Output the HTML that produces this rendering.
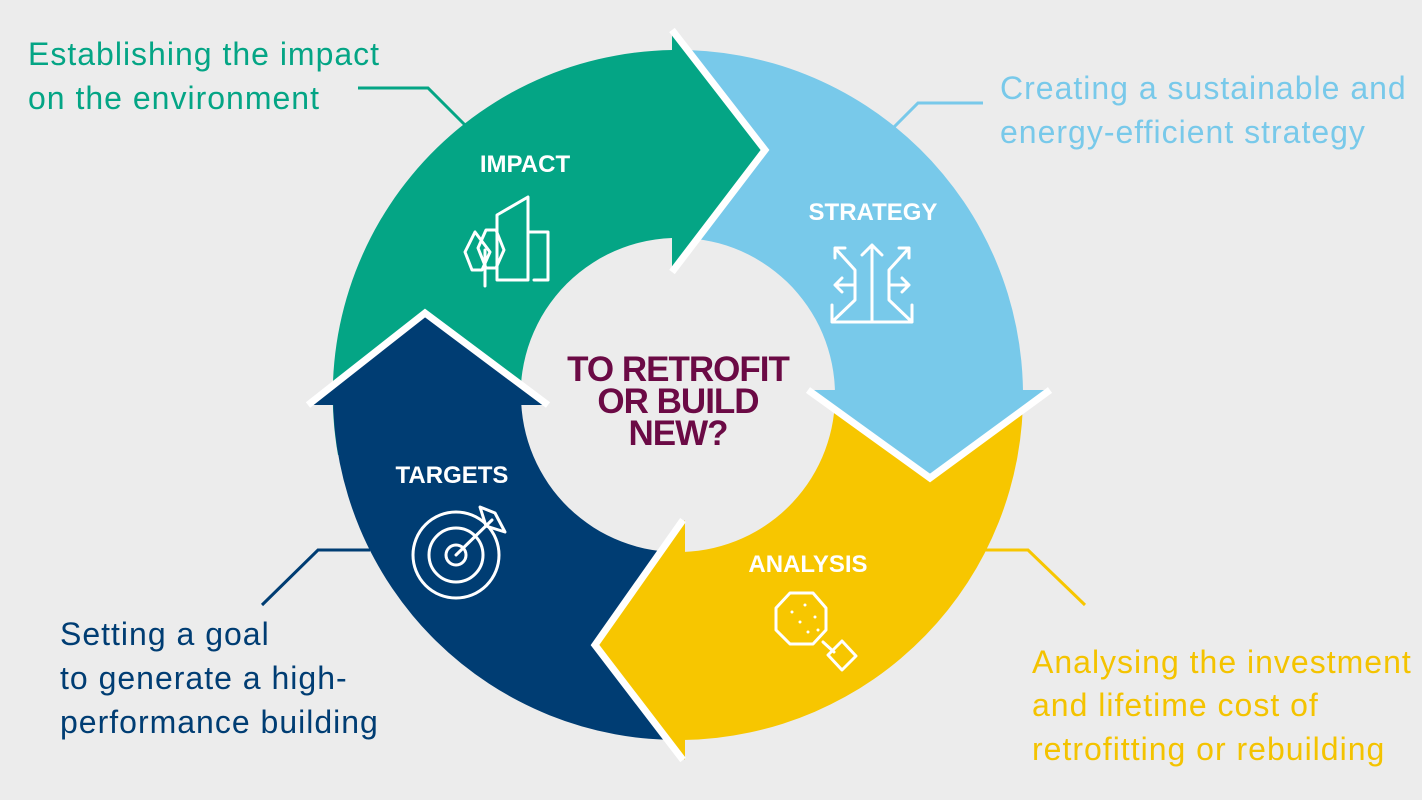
<!DOCTYPE html>
<html><head><meta charset="utf-8"><style>
body{margin:0;background:#ececec;}
svg{display:block;}
text{font-family:"Liberation Sans",sans-serif;}
</style></head><body>
<svg width="1422" height="800" viewBox="0 0 1422 800" xmlns="http://www.w3.org/2000/svg">
<rect width="1422" height="800" fill="#ececec"/>
<path d="M338,455 A345,345 0 0,1 672,50 L672,238 A157,157 0 0,0 523,422 Z" fill="#04a585"/>
<path d="M672,50 A345,345 0 0,1 1023,395 L835,395 A157,157 0 0,0 672,238 Z" fill="#78c9ea"/>
<path d="M1023,390 A345,345 0 0,1 683,740 L683,552 A157,157 0 0,0 835,390 Z" fill="#f7c600"/>
<path d="M683,740 A345,345 0 0,1 333,395 L521,395 A157,157 0 0,0 683,552 Z" fill="#003d73"/>
<polygon points="672,30 765,150 672,272" fill="#04a585"/>
<polyline points="672,30 765,150 672,272" fill="none" stroke="#fff" stroke-width="7"/>
<polygon points="808,390 930,478 1050,390" fill="#78c9ea"/>
<polyline points="808,390 930,478 1050,390" fill="none" stroke="#fff" stroke-width="7"/>
<polygon points="685,520 595,645 685,760" fill="#f7c600"/>
<polyline points="683,520 595,645 683,760" fill="none" stroke="#fff" stroke-width="7"/>
<polygon points="308,405 425,313 548,405" fill="#003d73"/>
<polyline points="308,405 425,313 548,405" fill="none" stroke="#fff" stroke-width="7"/>
<polyline points="358,88 428,88 465,125" fill="none" stroke="#04a585" stroke-width="3"/>
<polyline points="983,103 918,103 893,128" fill="none" stroke="#78c9ea" stroke-width="3"/>
<polyline points="985,550 1028,550 1085,605" fill="none" stroke="#f7c600" stroke-width="3"/>
<polyline points="370,550 318,550 262,605" fill="none" stroke="#003d73" stroke-width="3"/>
<g font-size="32" letter-spacing="1">
<text x="28" y="65" fill="#04a585">Establishing the impact</text>
<text x="28" y="109" fill="#04a585">on the environment</text>
<text x="1000" y="99" fill="#78c9ea">Creating a sustainable and</text>
<text x="1000" y="143" fill="#78c9ea">energy-efficient strategy</text>
<text x="60" y="645" fill="#003d73">Setting a goal</text>
<text x="60" y="689" fill="#003d73">to generate a high-</text>
<text x="60" y="733" fill="#003d73">performance building</text>
<text x="1032" y="673" fill="#f4c300">Analysing the investment</text>
<text x="1032" y="716" fill="#f4c300">and lifetime cost of</text>
<text x="1032" y="760" fill="#f4c300">retrofitting or rebuilding</text>
</g>
<g font-size="24" font-weight="bold" fill="#fff" text-anchor="middle">
<text x="525" y="172">IMPACT</text>
<text x="873" y="220">STRATEGY</text>
<text x="808" y="572">ANALYSIS</text>
<text x="452" y="483">TARGETS</text>
</g>
<g font-size="35" font-weight="bold" fill="#6b0a45" text-anchor="middle" letter-spacing="-1">
<text x="678" y="381">TO RETROFIT</text>
<text x="678" y="413">OR BUILD</text>
<text x="678" y="445">NEW?</text>
</g>
<g fill="none" stroke="#fff" stroke-width="3" stroke-linejoin="round" stroke-linecap="round">
<path d="M497,280 L497,215 L528,197 L528,280 Z M528,232 L548,232 L548,280 L534,280"/>
<path d="M475,232 L465,252 L472,270 L482,270 L490,252 Z M486,230 L478,248 L486,268 L496,268 L504,250 L496,230 Z M485,250 L485,286"/>
<path d="M872,322 L872,245 M862,255 L872,245 L882,255 M872,322 L832,322 L832,305 M872,322 L912,322 L912,305 M832,322 L855,300 L855,270 L835,248 M835,248 L835,258 M835,248 L845,248 M912,322 L889,300 L889,270 L909,248 M909,248 L909,258 M909,248 L899,248 M855,285 L835,285 M842,278 L835,285 L842,292 M889,285 L909,285 M902,278 L909,285 L902,292"/>
<path d="M790,593 L813,593 L826,608 L826,630 L813,644 L790,644 L776,630 L776,608 Z M823,642 L834,652 M828,655 L842,641 L856,656 L842,670 Z"/>
<circle cx="456" cy="555" r="43"/>
<circle cx="456" cy="555" r="27"/>
<circle cx="456" cy="555" r="10"/>
<path d="M456,555 L492,520 M480,507 L486,526 L505,532 L495,513 Z"/>
</g>
<g fill="#fff"><circle cx="792" cy="612" r="1.5"/><circle cx="805" cy="605" r="1.5"/><circle cx="800" cy="622" r="1.5"/><circle cx="815" cy="617" r="1.5"/><circle cx="808" cy="632" r="1.5"/><circle cx="818" cy="630" r="1.5"/></g>
</svg>
</body></html>
